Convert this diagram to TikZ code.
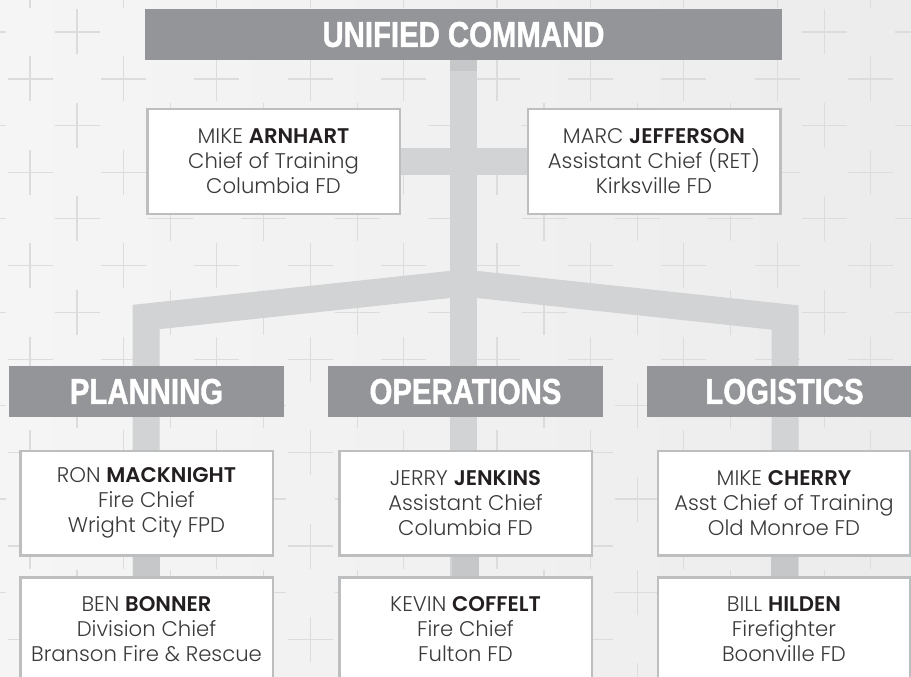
\documentclass[tikz,border=0pt]{standalone}
\usepackage{fontspec}
\newfontfamily\bodyfont{Poppins}[UprightFont=* Light, BoldFont=* SemiBold]
\newfontfamily\headfont{Liberation Sans}[FakeStretch=0.815, FakeBold=1.2]
\definecolor{bgc}{HTML}{ECECEC}
\definecolor{bgl}{HTML}{F5F5F5}
\definecolor{crossc}{HTML}{DCDCDC}
\definecolor{connc}{HTML}{D1D3D4}
\definecolor{conndark}{HTML}{C6C7C9}
\definecolor{barc}{HTML}{939598}
\definecolor{boxline}{HTML}{BCBEC0}
\definecolor{txtc}{HTML}{3A3A3A}
\definecolor{namec}{HTML}{231F20}
\pgfdeclarelayer{back}
\pgfsetlayers{back,main}
\begin{document}
\begin{tikzpicture}[x=1pt,y=-1pt,
  headbar/.style={fill=barc, minimum width=637pt, minimum height=51pt, inner sep=0pt,
    text=white, font=\headfont\bfseries\fontsize{36}{36}\selectfont},
  deptbar/.style={headbar, minimum width=275pt},
  person/.style={draw=boxline, line width=2.5pt, fill=white, minimum width=252.5pt,
    minimum height=104.5pt, inner sep=0pt, align=center, text=txtc,
    font=\bodyfont\fontsize{21.2}{25}\selectfont},
  conn/.style={draw=connc, line width=27pt, line join=miter, line cap=butt},
  conndk/.style={draw=conndark, line width=27pt, line cap=butt},
  crossline/.style={draw=crossc, line width=1.1pt}]
\newcommand{\nm}[1]{\textcolor{namec}{\textbf{#1}}}
\useasboundingbox (0,0) rectangle (911,677);
\clip (0,0) rectangle (911,677);
% nodes
\node[headbar] (uc) at (463.5,34.5) {UNIFIED COMMAND};
\node[person] (arn) at (273.5,161.5) {MIKE \nm{ARNHART}\\Chief of Training\\Columbia FD};
\node[person] (jef) at (654,161.5) {MARC \nm{JEFFERSON}\\Assistant Chief (RET)\\Kirksville FD};
\node[deptbar] (plan) at (146.5,391.5) {PLANNING};
\node[deptbar] (ops) at (465.5,391.5) {OPERATIONS};
\node[deptbar] (logi) at (784.5,391.5) {LOGISTICS};
\node[person] (mack) at (146.5,503) {RON \nm{MACKNIGHT}\\Fire Chief\\Wright City FPD};
\node[person] (jenk) at (465.5,503) {JERRY \nm{JENKINS}\\Assistant Chief\\Columbia FD};
\node[person] (cher) at (784,503) {MIKE \nm{CHERRY}\\Asst Chief of Training\\Old Monroe FD};
\node[person] (bon) at (146.5,629.5) {BEN \nm{BONNER}\\Division Chief\\Branson Fire \& Rescue};
\node[person] (coff) at (465.5,629.5) {KEVIN \nm{COFFELT}\\Fire Chief\\Fulton FD};
\node[person] (hild) at (784,629.5) {BILL \nm{HILDEN}\\Firefighter\\Boonville FD};
% connector coordinates
\coordinate (jl) at (146,317);
\coordinate (jn) at (463.5,283);
\coordinate (jr) at (785,317.5);
\coordinate (bl) at (146,700);
\coordinate (bm) at (463.5,700);
\coordinate (br) at (785,700);
\begin{pgfonlayer}{back}
  % background
  \shade[left color=bgl, right color=bgc] (0,0) rectangle (911,677);
  \foreach \i in {-1,...,9}{
    \foreach \j in {-1,...,7}{
      \draw[crossline] ({77+93.4*\i-22.5},{32+93.4*\j}) -- ++(45,0)
                       ({77+93.4*\i},{32+93.4*\j-22.5}) -- ++(0,45);
      \draw[crossline] ({30+93.4*\i-22.5},{79+93.4*\j}) -- ++(45,0)
                       ({30+93.4*\i},{79+93.4*\j-22.5}) -- ++(0,45);
    }}
  % connectors
  \draw[conn] (bl) -- (jl) -- (jn) -- (jr) -- (br);
  \draw[conn] (uc.south) -- (bm);
  \draw[conn] (arn.east) -- (jef.west);
  \draw[conndk] (uc.south) -- ++(0,11);
  \draw[conndk] (mack.south) -- (bon.north);
  \draw[conndk] (jenk.south) -- (coff.north);
  \draw[conndk] (cher.south) -- (hild.north);
\end{pgfonlayer}
\end{tikzpicture}
\end{document}
